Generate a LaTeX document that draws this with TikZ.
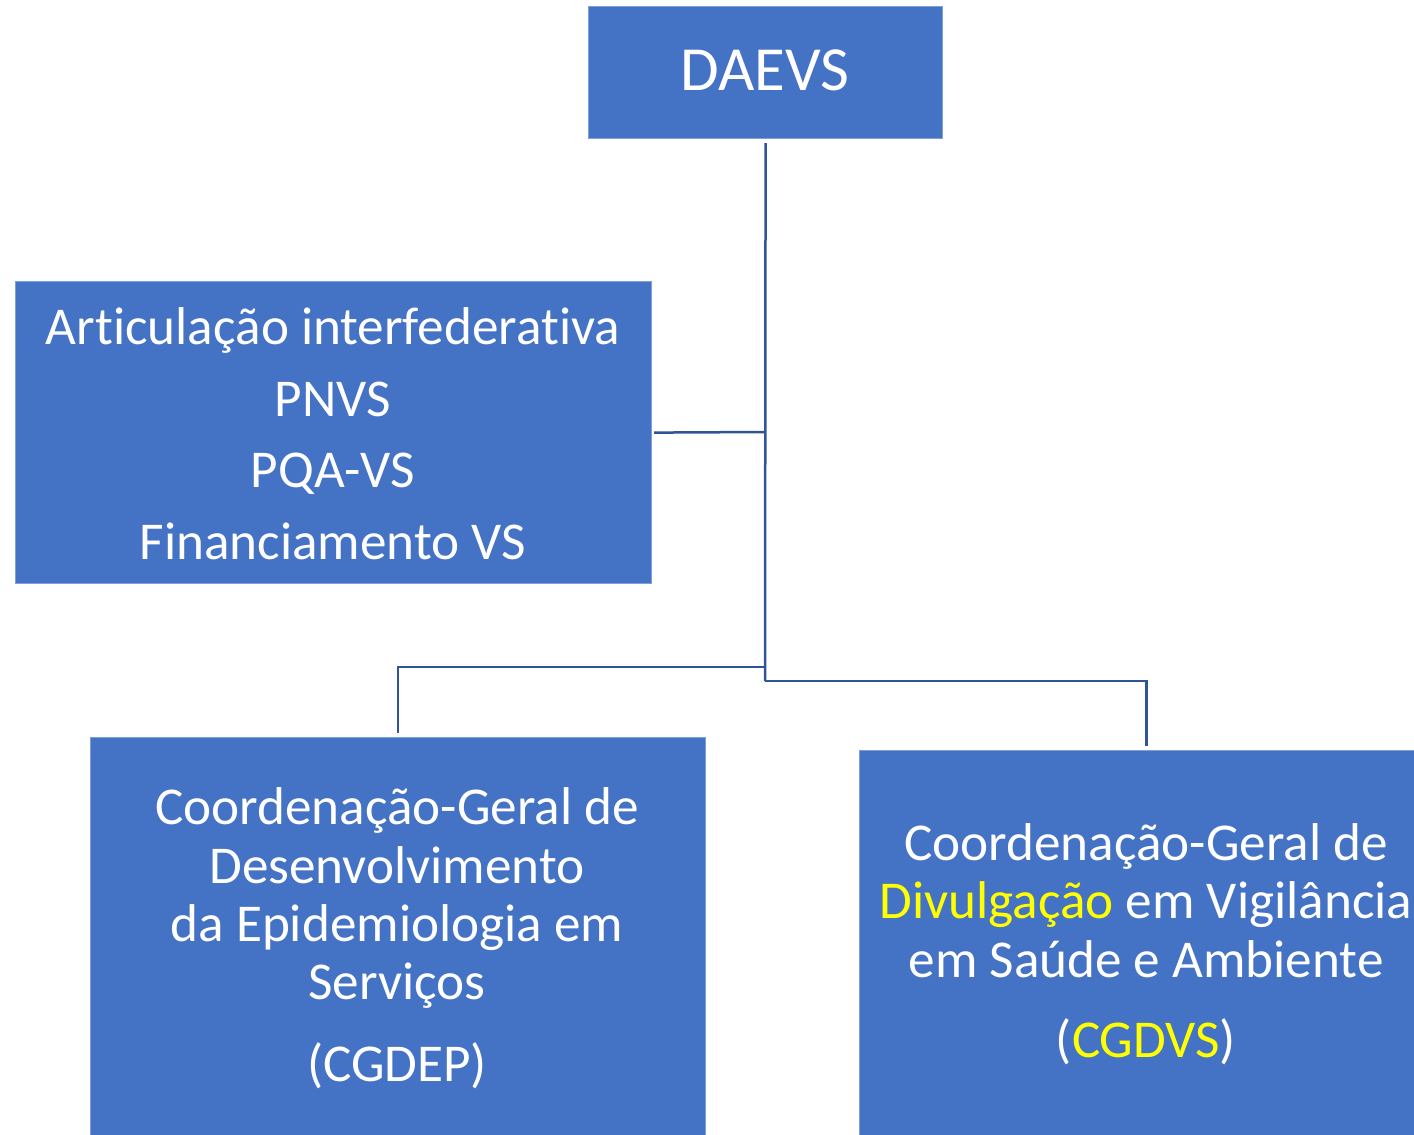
\documentclass[tikz,border=0pt]{standalone}
\usepackage{fontspec}
\setmainfont[Ligatures=NoCommon,RawFeature={-liga;-clig;-dlig;-calt}]{Carlito}
\definecolor{boxblue}{HTML}{4472C4}
\definecolor{boxedge}{HTML}{7F9FD9}
\definecolor{linkblue}{HTML}{2F5597}
\definecolor{hilite}{HTML}{FFFF00}
\begin{document}
\begin{tikzpicture}[x=0.5pt,y=-0.5pt,
  box/.style={draw=boxedge,line width=0.6pt,fill=boxblue,inner sep=0pt,anchor=north west},
  txt/.style={text=white,inner sep=0pt,anchor=base,font=\fontsize{26.6}{30}\selectfont},
  link/.style={draw=linkblue,line width=1.25pt}]
\useasboundingbox (0,0) rectangle (1414,1135);
\clip (0,0) rectangle (1414,1135);
% boxes
\node[box,minimum width=177pt,minimum height=66pt] (daevs) at (588,6) {};
\node[box,minimum width=318pt,minimum height=151pt] (art) at (15,281) {};
\node[box,minimum width=307.5pt,minimum height=220pt] (cgdep) at (90,737) {};
\node[box,minimum width=287pt,minimum height=220pt] (cgdvs) at (859,750) {};
% texts
\node[txt,font=\fontsize{31.4}{36}\selectfont] (t0) at (765,90) {DAEVS};
\node[txt] (a1) at (333,344) {Articulação interfederativa};
\node[txt] (a2) at (333,416) {PNVS};
\node[txt] (a3) at (333,487) {PQA-VS};
\node[txt] (a4) at (333,559) {Financiamento VS};
\node[txt] (b1) at (397,824) {Coordenação-Geral de};
\node[txt] (b2) at (397,883) {Desenvolvimento};
\node[txt] (b3) at (397,941) {da Epidemiologia em};
\node[txt] (b4) at (397,999) {Serviços};
\node[txt] (b5) at (397,1081) {(CGDEP)};
\node[txt] (c1) at (1146,860) {Coordenação-Geral de};
\node[txt] (c2) at (1146,918) {\textcolor{hilite}{Divulgação} em Vigilância};
\node[txt] (c3) at (1146,977) {em Saúde e Ambiente};
\node[txt] (c4) at (1146,1057) {(\textcolor{hilite}{CGDVS})};
% connectors
\coordinate (j1) at (765,432);
\coordinate (j2) at (765,667);
\coordinate (j3) at (765,681);
\draw[link] ([yshift=-2pt]daevs.south) -- (j3);
\draw[link] ([xshift=1pt]art.east) -- (j1);
\draw[link] (j2) -| ([yshift=2pt]cgdep.north);
\draw[link] (j3) -| ([yshift=2pt]cgdvs.north);
\end{tikzpicture}
\end{document}
